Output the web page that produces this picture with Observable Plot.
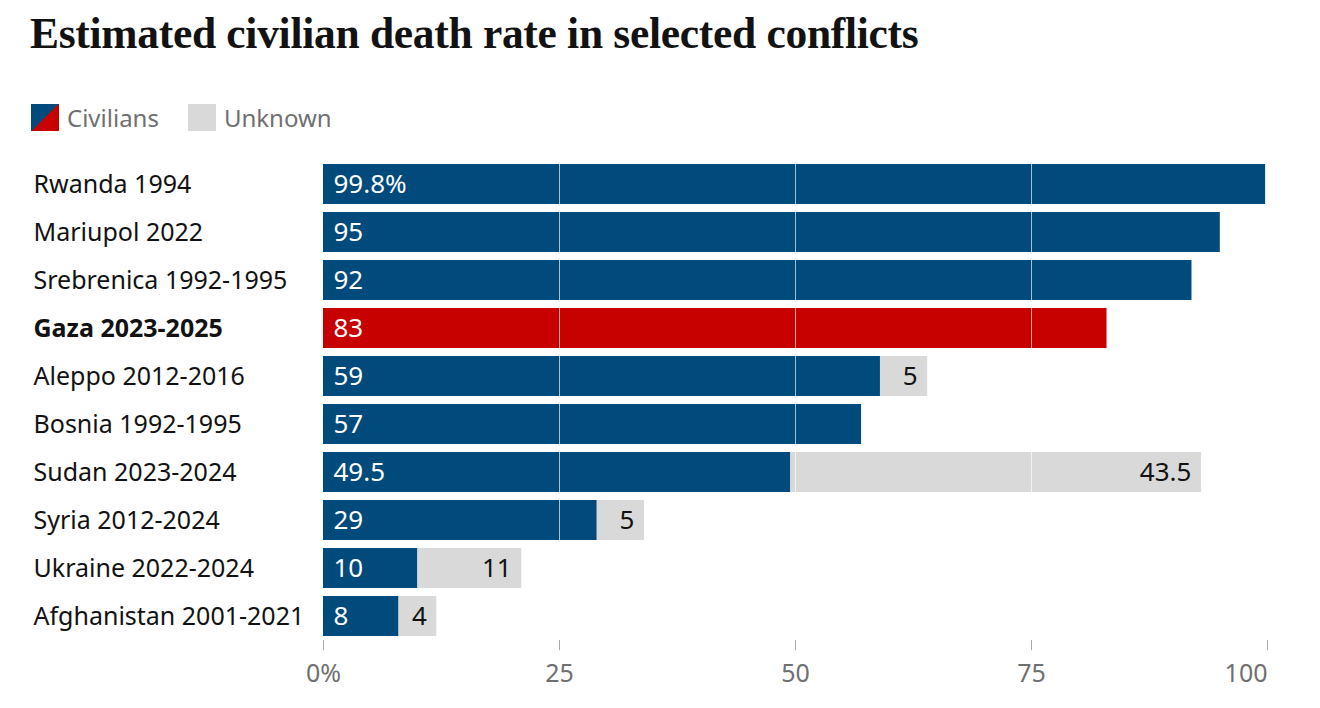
<!DOCTYPE html>
<html>
<head>
<meta charset="utf-8">
<script src="https://cdn.jsdelivr.net/npm/d3@7"></script>
<script src="https://cdn.jsdelivr.net/npm/@observablehq/plot@0.6"></script>
<style>
  html, body { margin: 0; padding: 0; background: #fff; }
  #wrap { position: relative; width: 1320px; height: 708px; overflow: hidden; }
  #title { position: absolute; left: 30px; top: 4px; font-family: "Liberation Serif", serif; font-weight: bold; font-size: 43.5px; line-height: 58px; color: #121212; white-space: nowrap; letter-spacing: -0.3px; }
  #legend { position: absolute; left: 31px; top: 101px; font-family: "Noto Sans", sans-serif; font-size: 24px; color: #707070; display: flex; align-items: center; height: 32px; }
  .sw { width: 28px; height: 27px; display: inline-block; margin-right: 8px; }
  .item { display: flex; align-items: center; margin-right: 29px; }
  #chart { position: absolute; left: 0; top: 150px; }
</style>
</head>
<body>
<div id="wrap">
  <div id="title">Estimated civilian death rate in selected conflicts</div>
  <div id="legend">
    <div class="item"><span class="sw" style="background: linear-gradient(to bottom right, #004b7c 50%, #c70000 50%);"></span>Civilians</div>
    <div class="item"><span class="sw" style="background:#d9d9d9;"></span>Unknown</div>
  </div>
  <div id="chart"></div>
</div>
<script>
const categories = ["Rwanda 1994","Mariupol 2022","Srebrenica 1992-1995","Gaza 2023-2025","Aleppo 2012-2016","Bosnia 1992-1995","Sudan 2023-2024","Syria 2012-2024","Ukraine 2022-2024","Afghanistan 2001-2021"];
const civilians = [99.8, 95, 92, 83, 59, 57, 49.5, 29, 10, 8];
const unknown = [0, 0, 0, 0, 5, 0, 43.5, 5, 11, 4];
const civLabels = ["99.8%","95","92","83","59","57","49.5","29","10","8"];
const highlight = "Gaza 2023-2025";
const xTicks = [0, 25, 50, 75, 100];

const BLUE = "#004b7c", RED = "#c70000", GRAY = "#d9d9d9";
const data = categories.map((c, i) => ({name: c, civ: civilians[i], unk: unknown[i], label: civLabels[i]}));
const unkData = data.filter(d => d.unk > 0);
const FONT = "Noto Sans, sans-serif";
const lastTick = xTicks[xTicks.length - 1];
const fmt = d => d === 0 ? "0%" : String(d);

const chart = Plot.plot({
  width: 1320,
  height: 558,
  marginLeft: 323,
  marginRight: 53,
  marginTop: 14,
  marginBottom: 68,
  style: {fontFamily: FONT, background: "transparent"},
  x: {domain: [0, 100], axis: null},
  y: {domain: categories, paddingInner: 1/6, paddingOuter: 0, insetBottom: 4, axis: null},
  marks: [
    Plot.barX(data, {y: "name", x1: 0, x2: "civ", fill: d => d.name === highlight ? RED : BLUE}),
    Plot.barX(unkData, {y: "name", x1: "civ", x2: d => d.civ + d.unk, fill: GRAY}),
    Plot.ruleX(xTicks.filter(t => t > 0), {stroke: "white", strokeOpacity: 0.65, strokeWidth: 1}),
    Plot.text(data, {y: "name", x: 0, text: "label", textAnchor: "start", dx: 10, fill: "white", fontSize: 26}),
    Plot.text(unkData, {y: "name", x: d => d.civ + d.unk, text: d => String(d.unk), textAnchor: "end", dx: -10, fill: "#121212", fontSize: 26}),
    Plot.text(data.filter(d => d.name !== highlight), {y: "name", text: "name", frameAnchor: "left", textAnchor: "start", dx: -290, fill: "#121212", fontSize: 25}),
    Plot.text(data.filter(d => d.name === highlight), {y: "name", text: "name", frameAnchor: "left", textAnchor: "start", dx: -290, fill: "#121212", fontSize: 25, fontWeight: "bold"}),
    Plot.axisX({ticks: xTicks, tickFormat: () => "", tickSize: 10, stroke: "#aaa", label: null}),
    Plot.axisX({ticks: xTicks.filter(t => t !== lastTick), tickFormat: fmt, tickSize: 0, tickPadding: 24, fill: "#707070", fontSize: 25, label: null}),
    Plot.axisX({ticks: [lastTick], tickFormat: fmt, tickSize: 0, tickPadding: 24, textAnchor: "end", fill: "#707070", fontSize: 25, label: null})
  ]
});
document.getElementById("chart").appendChild(chart);
</script>
</body>
</html>
